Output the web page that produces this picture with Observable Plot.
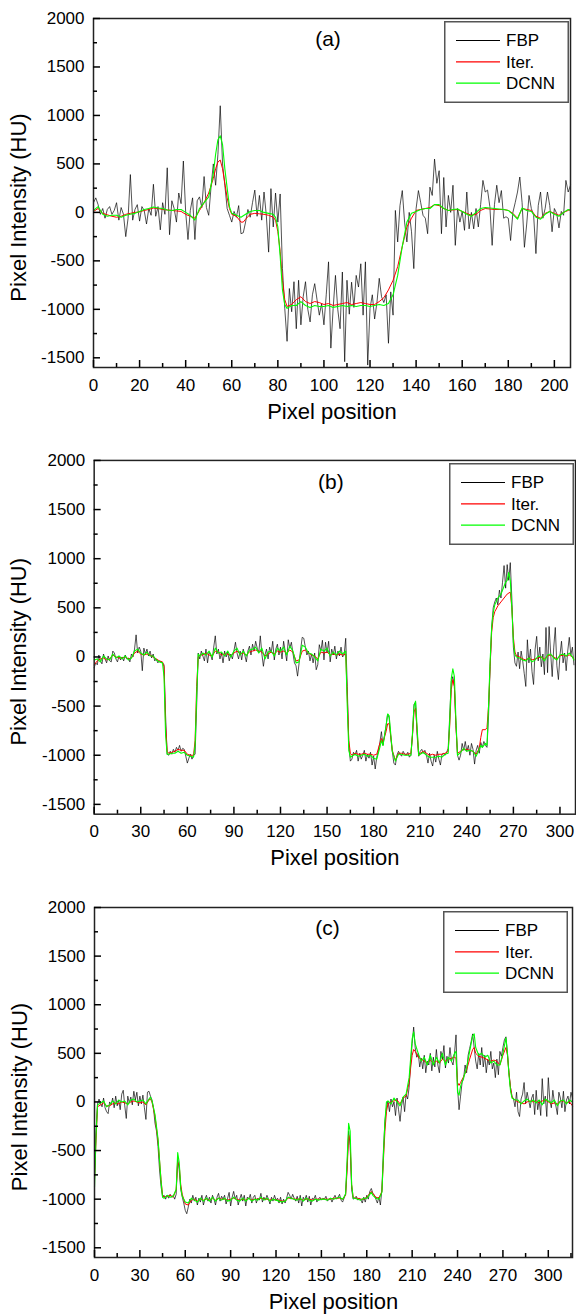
<!DOCTYPE html>
<html><head><meta charset="utf-8">
<script src="https://cdn.jsdelivr.net/npm/d3@7"></script>
<script src="https://cdn.jsdelivr.net/npm/@observablehq/plot@0.6"></script>
<style>
html,body{margin:0;padding:0;background:#fff;overflow:hidden;}
#wrap{position:relative;width:576px;height:1315px;font-family:"Liberation Sans",Arial,sans-serif;}
.panel{position:absolute;left:0;}
</style></head><body><div id="wrap"></div>
<script>
// ---------- labels ----------
const seriesNames = ["FBP", "Iter.", "DCNN"];
const seriesColors = ["#000000", "#ff0000", "#00ff00"];
const tags = ["(a)", "(b)", "(c)"];
const xTitle = "Pixel position";
const yTitle = "Pixel Intensity (HU)";
const yTicks = [-1500, -1000, -500, 0, 500, 1000, 1500, 2000];
const yMinorTicks = [-1250, -750, -250, 250, 750, 1250, 1750];
const yDomain = [-1600, 2000];
const xTicksA = [0, 20, 40, 60, 80, 100, 120, 140, 160, 180, 200];
const xMinorA = [10, 30, 50, 70, 90, 110, 130, 150, 170, 190];
const xTicksB = [0, 30, 60, 90, 120, 150, 180, 210, 240, 270, 300];
const xMinorB = [15, 45, 75, 105, 135, 165, 195, 225, 255, 285];
const xTicksC = [0, 30, 60, 90, 120, 150, 180, 210, 240, 270, 300];
const xMinorC = [15, 45, 75, 105, 135, 165, 195, 225, 255, 285, 315];
const xDomainA = [0, 207], xDomainB = [0, 310], xDomainC = [0, 316];

// ---------- panel (a) ----------
const fbpA = [100,150,80,-20,40,-60,30,60,-20,20,
100,-80,50,-20,-250,-60,390,-80,30,80,
-90,60,20,-120,40,-30,290,-40,60,-180,
100,-20,460,-230,120,40,-100,200,90,530,
0,-280,20,150,-280,120,160,50,370,50,
-30,260,500,280,600,1100,500,280,40,-30,
-100,10,-50,70,-220,-210,-100,30,-50,100,
230,-40,175,-80,210,-30,-410,245,-150,200,
-100,190,-580,-990,-1330,-785,-1025,-715,-1200,-700,
-1160,-870,-715,-1000,-1130,-850,-735,-900,-1060,-940,
-1160,-850,-510,-1400,-990,-650,-1000,-1200,-615,-1540,
-700,-1050,-720,-980,-650,-770,-530,-1060,-510,-1575,
-990,-850,-1100,-930,-680,-870,-930,-850,-1350,-820,
-1060,20,-305,70,225,-100,-305,0,-200,-580,
40,225,100,-30,-60,-220,260,175,550,300,
430,-220,360,-150,175,0,280,-340,40,-100,
10,-185,210,-170,0,-170,40,-150,80,330,
210,230,60,-340,80,280,100,225,-60,-45,
-60,-290,0,100,210,365,100,-360,-120,175,
40,-30,-425,70,210,-60,40,210,70,-200,
40,-10,-160,10,-30,330,210,280];
const iterA = [[0,10],[2,40],[4,-10],[6,-25],[8,-40],[10,-50],[12,-40],[14,-20],[16,-10],[18,0],[20,5],[22,20],[24,30],[26,45],[28,40],[30,30],[32,25],[34,20],[36,15],[38,10],[40,-20],[42,-40],[44,-60],[46,20],[48,100],[50,200],[52,350],[53,450],[54,520],[55,540],[56,450],[57,300],[58,150],[59,40],[60,-20],[62,-40],[64,-100],[65,-100],[66,-70],[68,-20],[70,-10],[72,-15],[74,-20],[76,-30],[78,-50],[79,-80],[80,-200],[81,-400],[82,-700],[83,-900],[84,-970],[86,-950],[88,-900],[90,-870],[92,-920],[94,-940],[96,-920],[98,-930],[100,-950],[102,-940],[104,-960],[106,-950],[108,-940],[110,-930],[112,-950],[114,-940],[116,-930],[118,-940],[120,-950],[122,-950],[124,-920],[126,-880],[128,-800],[130,-700],[132,-560],[134,-350],[136,-150],[138,-60],[140,20],[142,30],[144,40],[146,50],[148,80],[150,70],[152,40],[154,20],[156,25],[158,30],[160,10],[162,-10],[164,-30],[166,-20],[168,20],[170,40],[172,35],[174,30],[176,30],[178,30],[180,20],[182,-10],[184,-60],[186,40],[188,30],[190,20],[192,-40],[194,-60],[196,-10],[198,10],[200,-10],[202,-30],[204,0],[206,20],[207,30]];
const dcnnA = [[0,20],[2,60],[4,-20],[6,-40],[8,-30],[10,-30],[12,-50],[14,-30],[16,-20],[18,-10],[20,10],[22,30],[24,40],[26,55],[28,45],[30,40],[32,25],[34,20],[36,30],[38,30],[40,0],[42,-30],[44,-80],[46,40],[48,100],[50,160],[52,400],[53,600],[54,750],[55,790],[56,700],[57,450],[58,250],[59,60],[60,-10],[62,-30],[64,-50],[66,-20],[68,10],[70,20],[72,20],[74,0],[76,-10],[78,-20],[79,-50],[80,-150],[81,-450],[82,-800],[83,-950],[84,-990],[86,-960],[88,-960],[90,-920],[92,-960],[94,-980],[96,-960],[98,-970],[100,-970],[102,-960],[104,-980],[106,-970],[108,-960],[110,-970],[112,-960],[114,-970],[116,-960],[118,-960],[120,-970],[122,-960],[124,-950],[126,-960],[128,-940],[130,-850],[132,-650],[134,-350],[136,-100],[138,-10],[140,10],[142,30],[144,40],[146,40],[148,80],[150,80],[152,40],[154,20],[156,30],[158,35],[160,10],[162,-20],[164,-40],[166,0],[168,40],[170,50],[172,45],[174,40],[176,35],[178,30],[180,20],[182,-20],[184,-70],[186,45],[188,20],[190,10],[192,-50],[194,-70],[196,-20],[198,10],[200,-20],[202,-40],[204,0],[206,30],[207,20]];

// ---------- panel (b) ----------
const fbpB = [-110,-60,-80,20,-40,-70,30,-20,-60,10,
-40,-50,60,40,-20,-50,10,-30,0,-40,
20,-20,-10,-50,30,0,80,225,40,100,
60,-140,90,30,80,10,60,-10,30,-40,
-20,-60,-40,-50,-60,-80,-600,-990,-1000,-960,
-990,-940,-970,-920,-950,-900,-960,-930,-940,-1010,
-1080,-1030,-990,-1040,-1000,-990,-500,40,-20,60,
10,-40,80,-60,50,20,-30,100,215,30,
80,-20,40,-60,60,0,50,-40,30,-20,
60,150,40,-20,60,-30,80,20,-50,60,
110,20,130,60,160,90,40,215,30,-95,
20,80,-20,100,40,160,-30,80,130,20,
100,-20,160,60,-40,175,90,150,40,-60,
-90,-195,-60,80,200,190,100,20,60,-40,
30,-60,40,-130,-80,125,60,170,-30,150,
40,160,-50,80,20,110,-20,60,10,100,
0,20,190,-300,-900,-1060,-1040,-970,-1000,-950,
-1060,-980,-1040,-1000,-950,-1060,-990,-1030,-970,-1100,
-1010,-1140,-1020,-960,-870,-760,-900,-800,-700,-580,
-620,-820,-960,-1080,-1100,-1000,-960,-990,-1010,-960,
-990,-1000,-970,-1020,-1000,-800,-480,-460,-800,-1010,
-960,-940,-980,-950,-1000,-1080,-980,-1060,-1110,-1000,
-1070,-960,-1040,-1100,-990,-980,-1000,-970,-930,-600,
-250,-200,-300,-700,-1000,-1050,-1000,-880,-950,-860,
-960,-900,-1000,-880,-940,-1090,-950,-900,-980,-870,
-920,-860,-900,-920,-600,-100,300,500,560,600,
530,680,600,760,930,700,940,780,960,600,
100,-60,-95,50,-120,60,-40,-170,-300,175,
-60,80,-150,-280,80,210,-40,100,-100,30,
-180,300,-160,310,40,-200,100,300,-90,-230,
20,160,-60,40,-140,60,200,20,100,-80];
const iterB = [[0,-80],[2,-40],[4,-20],[6,-10],[8,-30],[10,-20],[12,20],[14,0],[16,-10],[18,-10],[20,0],[22,-20],[24,-10],[26,40],[28,60],[30,30],[32,20],[34,30],[36,20],[38,0],[40,-20],[42,-40],[44,-50],[45,-100],[46,-700],[47,-960],[48,-980],[50,-970],[52,-960],[54,-940],[56,-950],[58,-950],[60,-990],[62,-1000],[64,-1000],[65,-850],[66,-300],[67,0],[68,20],[70,20],[72,40],[74,20],[76,10],[78,60],[80,50],[82,20],[84,30],[86,30],[88,10],[90,40],[92,60],[94,30],[96,40],[98,20],[100,50],[102,60],[104,70],[106,60],[108,50],[110,10],[112,30],[114,50],[116,30],[118,60],[120,50],[122,60],[124,40],[126,70],[128,50],[130,-40],[132,-30],[134,60],[136,70],[138,40],[140,20],[142,10],[144,-20],[146,50],[148,40],[150,50],[152,20],[154,30],[156,20],[158,30],[160,20],[162,30],[163,-400],[164,-850],[165,-980],[166,-1000],[168,-980],[170,-990],[172,-990],[174,-980],[176,-990],[178,-990],[180,-1000],[182,-990],[184,-880],[185,-830],[186,-870],[188,-760],[189,-680],[190,-680],[191,-800],[192,-950],[194,-1050],[196,-980],[198,-980],[200,-990],[202,-990],[204,-980],[205,-800],[206,-560],[207,-520],[208,-750],[209,-1000],[210,-980],[212,-960],[214,-980],[216,-1000],[218,-990],[220,-1000],[222,-990],[224,-990],[226,-980],[228,-960],[229,-700],[230,-330],[231,-230],[232,-300],[233,-700],[234,-980],[236,-960],[238,-940],[240,-940],[242,-950],[244,-960],[246,-990],[248,-930],[249,-820],[250,-740],[252,-740],[253,-720],[254,-500],[255,-100],[256,250],[257,400],[258,460],[260,520],[262,560],[264,600],[266,640],[268,660],[269,500],[270,200],[271,50],[272,10],[274,0],[276,-20],[278,-30],[280,-10],[282,-30],[284,-20],[286,-10],[288,0],[290,-20],[292,10],[294,20],[296,0],[298,-20],[300,10],[302,20],[304,10],[306,20],[308,0],[309,-20]];
const dcnnB = [[0,-30],[2,-20],[4,-50],[6,10],[8,-20],[10,-30],[12,30],[14,-10],[16,10],[18,-20],[20,10],[22,-30],[24,-10],[26,60],[28,80],[30,40],[32,20],[34,50],[36,10],[38,10],[40,-30],[42,-50],[44,-60],[45,-200],[46,-800],[47,-990],[48,-990],[50,-980],[52,-980],[54,-960],[56,-980],[58,-970],[60,-1000],[62,-1010],[64,-1020],[65,-900],[66,-400],[67,30],[68,10],[70,40],[72,20],[74,60],[76,0],[78,90],[80,40],[82,50],[84,10],[86,60],[88,0],[90,60],[92,90],[94,20],[96,60],[98,10],[100,70],[102,80],[104,100],[106,40],[108,90],[110,-20],[112,50],[114,60],[116,10],[118,90],[120,60],[122,100],[124,20],[126,110],[128,60],[130,-60],[132,-50],[134,120],[136,100],[138,40],[140,30],[142,0],[144,-40],[146,80],[148,60],[150,90],[152,10],[154,50],[156,20],[158,60],[160,30],[162,60],[163,-500],[164,-950],[165,-1020],[166,-1010],[168,-990],[170,-1010],[172,-1000],[174,-990],[176,-1010],[178,-1000],[180,-1030],[182,-1040],[184,-920],[185,-850],[186,-900],[188,-700],[189,-580],[190,-600],[191,-780],[192,-960],[194,-1060],[196,-990],[198,-990],[200,-1000],[202,-1000],[204,-1000],[205,-780],[206,-500],[207,-450],[208,-720],[209,-1000],[210,-990],[212,-970],[214,-1000],[216,-1020],[218,-1020],[220,-1020],[222,-1010],[224,-1020],[226,-990],[228,-980],[229,-650],[230,-220],[231,-120],[232,-200],[233,-650],[234,-1000],[236,-970],[238,-930],[240,-960],[242,-950],[244,-960],[246,-1010],[248,-940],[249,-900],[250,-920],[252,-880],[253,-900],[254,-500],[255,-50],[256,300],[257,450],[258,530],[260,600],[262,640],[264,720],[265,760],[266,780],[267,860],[268,780],[269,500],[270,150],[271,20],[272,0],[274,-10],[276,-30],[278,-40],[280,-10],[282,-50],[284,-30],[286,10],[288,0],[290,-40],[292,20],[294,30],[296,-10],[298,-30],[300,20],[302,30],[304,10],[306,40],[308,0],[309,-30]];

// ---------- panel (c) ----------
const fbpC = [-750,-300,-20,30,-20,-50,40,-60,-100,-120,
0,-30,40,-60,60,-40,20,-80,80,120,
-40,-170,60,-10,50,-30,110,20,100,-40,
60,-20,70,-60,-180,100,110,60,20,-60,
-220,-300,-460,-700,-870,-975,-960,-1000,-960,-990,
-950,-980,-960,-1000,-950,-580,-700,-900,-975,-1040,
-1115,-1150,-1080,-1000,-1040,-960,-1020,-980,-1060,-990,
-1030,-960,-1060,-1000,-960,-1020,-980,-1040,-960,-1000,
-1060,-980,-940,-1020,-970,-1000,-960,-1050,-990,-930,
-1070,-980,-920,-1000,-960,-1060,-1000,-950,-1020,-960,
-1070,-980,-1000,-950,-1040,-980,-960,-1040,-990,-1010,
-940,-1030,-980,-1010,-960,-1000,-1050,-980,-1020,-960,
-1010,-990,-1040,-980,-1050,-1000,-1040,-990,-930,-960,
-1000,-950,-990,-1020,-970,-1040,-960,-1070,-980,-1010,
-960,-1030,-970,-1060,-990,-1000,-960,-1030,-1000,-980,
-1010,-990,-1000,-970,-1020,-1000,-990,-1030,-990,-960,
-1000,-980,-950,-1010,-1030,-990,-940,-650,-300,-450,
-900,-1000,-990,-970,-1010,-990,-1000,-1040,-980,-1030,
-960,-1000,-920,-890,-940,-960,-1000,-1040,-980,-1060,
-900,-500,-200,-60,10,-100,30,-50,0,-140,
40,-80,-200,-40,50,-100,80,30,150,400,
600,770,560,460,500,360,450,340,480,300,
420,380,500,320,460,360,540,380,300,520,
440,580,350,470,400,560,420,380,500,690,
150,-80,60,200,240,380,300,480,550,620,
700,560,420,340,500,380,560,360,480,300,
440,380,520,340,400,250,440,280,520,470,
560,640,670,500,300,150,60,30,-50,100,
-100,-150,30,80,200,-20,100,20,-60,40,
80,-130,120,-80,20,-140,240,-20,60,-150,
250,20,-60,120,0,-40,-130,100,40,-60,
110,-100,20,60,-20,100,40];
const iterC = [[0,-800],[1,-400],[2,-50],[4,-30],[6,-10],[8,-40],[10,-40],[12,-20],[14,-10],[16,-20],[18,0],[20,-10],[22,-20],[24,0],[26,10],[28,0],[30,-10],[32,0],[34,-30],[36,20],[37,30],[38,0],[40,-150],[42,-400],[44,-800],[45,-960],[46,-980],[48,-970],[50,-960],[52,-980],[54,-900],[55,-620],[56,-650],[57,-850],[58,-950],[60,-1050],[62,-1060],[64,-1010],[66,-1000],[68,-1020],[70,-1000],[72,-1010],[74,-1000],[76,-1010],[78,-990],[80,-1010],[82,-990],[84,-1000],[86,-1000],[88,-1010],[90,-1000],[92,-990],[94,-1000],[96,-1010],[98,-1000],[100,-1010],[102,-990],[104,-1010],[106,-1000],[108,-1000],[110,-990],[112,-1000],[114,-1000],[116,-1010],[118,-1000],[120,-1010],[122,-1010],[124,-1020],[126,-1020],[128,-990],[130,-990],[132,-1000],[134,-1000],[136,-1000],[138,-1010],[140,-1000],[142,-1000],[144,-1010],[146,-1000],[148,-1000],[150,-1000],[152,-1000],[154,-1000],[156,-1000],[158,-990],[160,-990],[162,-990],[164,-1000],[166,-960],[167,-700],[168,-340],[169,-400],[170,-850],[171,-980],[172,-990],[174,-990],[176,-1000],[178,-1000],[180,-980],[182,-940],[183,-920],[184,-940],[186,-980],[188,-990],[190,-920],[191,-600],[192,-300],[193,-100],[194,-20],[196,0],[198,10],[200,20],[202,-20],[204,40],[206,60],[208,200],[209,350],[210,480],[211,540],[212,520],[214,460],[216,440],[218,420],[220,400],[222,430],[224,400],[226,420],[228,400],[230,440],[232,420],[234,440],[236,450],[238,460],[239,450],[240,200],[241,170],[242,200],[244,260],[246,330],[248,440],[250,540],[251,560],[252,500],[254,470],[256,460],[258,450],[260,430],[262,420],[264,430],[266,420],[268,380],[270,480],[272,560],[273,480],[274,300],[275,150],[276,50],[278,20],[280,0],[282,-10],[284,-20],[286,0],[288,10],[290,0],[292,10],[294,-10],[296,10],[298,20],[300,0],[302,-20],[304,-10],[306,-20],[308,10],[310,10],[312,-10],[314,0],[316,-40]];
const dcnnC = [[0,-880],[1,-350],[2,-30],[4,-10],[6,10],[8,-50],[10,-30],[12,10],[14,-20],[16,20],[18,0],[20,10],[22,-30],[24,20],[26,30],[28,0],[30,10],[32,20],[34,-20],[36,30],[37,50],[38,10],[40,-130],[42,-380],[44,-820],[45,-980],[46,-990],[48,-960],[50,-980],[52,-970],[54,-900],[55,-520],[56,-620],[57,-880],[58,-970],[60,-1030],[62,-1040],[64,-990],[66,-1010],[68,-1030],[70,-990],[72,-1020],[74,-990],[76,-1020],[78,-980],[80,-1020],[82,-990],[84,-1010],[86,-990],[88,-1020],[90,-1010],[92,-980],[94,-1010],[96,-1020],[98,-990],[100,-1020],[102,-990],[104,-1020],[106,-1000],[108,-1010],[110,-980],[112,-1010],[114,-990],[116,-1020],[118,-1000],[120,-1010],[122,-1020],[124,-1030],[126,-1020],[128,-980],[130,-990],[132,-1000],[134,-1010],[136,-990],[138,-1020],[140,-990],[142,-1010],[144,-1020],[146,-1000],[148,-1010],[150,-1000],[152,-1000],[154,-1010],[156,-990],[158,-1000],[160,-990],[162,-980],[164,-1000],[166,-950],[167,-600],[168,-220],[169,-300],[170,-850],[171,-990],[172,-990],[174,-1000],[176,-1010],[178,-990],[180,-990],[182,-950],[183,-930],[184,-960],[186,-990],[188,-1000],[190,-930],[191,-550],[192,-200],[193,0],[194,10],[196,-20],[198,40],[200,0],[202,-40],[204,50],[206,80],[208,250],[209,450],[210,650],[211,720],[212,600],[214,500],[216,420],[218,460],[220,380],[222,480],[224,380],[226,460],[228,400],[230,500],[232,380],[234,460],[236,420],[238,500],[239,520],[240,100],[241,70],[242,160],[244,250],[246,350],[248,520],[250,680],[251,700],[252,560],[254,480],[256,500],[258,460],[260,480],[262,400],[264,420],[266,380],[268,380],[270,500],[272,660],[273,500],[274,280],[275,120],[276,40],[278,20],[280,20],[282,-20],[284,10],[286,30],[288,0],[290,20],[292,-10],[294,20],[296,-30],[298,30],[300,10],[302,-10],[304,20],[306,-40],[308,10],[310,20],[312,-20],[314,20],[316,0]];

// ---------- layout (styles only) ----------
const panels = [
  {tag: tags[0], fbp: fbpA, iter: iterA, dcnn: dcnnA, xDomain: xDomainA, xTicks: xTicksA, xMinor: xMinorA,
   top: 0, width: 576, height: 440, ml: 93, mr: 6, mt: 18, mb: 73, tagDx: -4, tagDy: 21, legLeft: 444, legTop: 21},
  {tag: tags[1], fbp: fbpB, iter: iterB, dcnn: dcnnB, xDomain: xDomainB, xTicks: xTicksB, xMinor: xMinorB,
   top: 440, width: 578, height: 440, ml: 94, mr: 1, mt: 20, mb: 65, tagDx: -4, tagDy: 22, legLeft: 449, legTop: 463},
  {tag: tags[2], fbp: fbpC, iter: iterC, dcnn: dcnnC, xDomain: xDomainC, xTicks: xTicksC, xMinor: xMinorC,
   top: 880, width: 576, height: 435, ml: 94, mr: 4, mt: 27, mb: 58, tagDx: -6, tagDy: 21, legLeft: 443, legTop: 911}
];

const wrap = document.getElementById("wrap");
const FONT = '"Liberation Sans", Arial, Helvetica, sans-serif';
const plain = d => String(d);

for (const p of panels) {
  const fbp = p.fbp.map((v, i) => ({x: i, y: v}));
  const iter = p.iter.map(([x, y]) => ({x, y}));
  const dcnn = p.dcnn.map(([x, y]) => ({x, y}));
  const chart = Plot.plot({
    width: p.width, height: p.height,
    marginLeft: p.ml, marginRight: p.mr, marginTop: p.mt, marginBottom: p.mb,
    style: {fontFamily: FONT, fontSize: "17px", color: "#000", background: "transparent", overflow: "visible"},
    x: {domain: p.xDomain},
    y: {domain: yDomain},
    marks: [
      Plot.line(fbp, {x: "x", y: "y", stroke: seriesColors[0], strokeWidth: 0.75, strokeOpacity: 0.9}),
      Plot.line(iter, {x: "x", y: "y", stroke: seriesColors[1], strokeWidth: 1}),
      Plot.line(dcnn, {x: "x", y: "y", stroke: seriesColors[2], strokeWidth: 1.1}),
      Plot.frame({stroke: "#222", strokeWidth: 1.5}),
      Plot.axisY(yTicks, {tickSize: -7, strokeWidth: 1.5, tickFormat: () => "", label: null}),
      Plot.axisY(yMinorTicks, {tickSize: -4, strokeWidth: 1.5, tickFormat: () => "", label: null}),
      Plot.axisY(yTicks, {tickSize: 0, tickPadding: 9, fontSize: 17, tickFormat: plain, label: null}),
      Plot.axisX(p.xTicks, {tickSize: -7, strokeWidth: 1.5, tickFormat: () => "", label: null}),
      Plot.axisX(p.xMinor, {tickSize: -4, strokeWidth: 1.5, tickFormat: () => "", label: null}),
      Plot.axisX(p.xTicks, {tickSize: 0, tickPadding: 11, fontSize: 17, tickFormat: plain, label: null}),
      Plot.text([yTitle], {frameAnchor: "left", rotate: -90, dx: -75, dy: 14.5, fontSize: 22, textAnchor: "middle", lineAnchor: "middle", fill: "#000"}),
      Plot.text([xTitle], {frameAnchor: "bottom", dy: 44, fontSize: 22, textAnchor: "middle", lineAnchor: "middle", fill: "#000"}),
      Plot.text([p.tag], {frameAnchor: "top", dx: p.tagDx, dy: p.tagDy, fontSize: 21, lineAnchor: "middle", fill: "#000"})
    ]
  });
  chart.classList.add("panel");
  chart.style.top = p.top + "px";
  wrap.appendChild(chart);

  // legend box
  const leg = d3.create("svg")
    .attr("width", 126).attr("height", 84)
    .style("position", "absolute").style("left", p.legLeft + "px").style("top", p.legTop + "px");
  leg.append("rect").attr("x", 0.75).attr("y", 0.75).attr("width", 123.5).attr("height", 80.5)
    .attr("fill", "#fff").attr("stroke", "#555").attr("stroke-width", 1.5);
  seriesNames.forEach((name, i) => {
    const cy = 19.5 + i * 21.3;
    leg.append("line").attr("x1", 12).attr("x2", 56).attr("y1", cy).attr("y2", cy)
      .attr("stroke", seriesColors[i]).attr("stroke-width", i === 0 ? 1 : 1.3);
    leg.append("text").attr("x", 62).attr("y", cy).attr("dy", "0.35em")
      .attr("font-family", FONT).attr("font-size", 17).attr("fill", "#000").text(name);
  });
  wrap.appendChild(leg.node());
}
</script></body></html>
